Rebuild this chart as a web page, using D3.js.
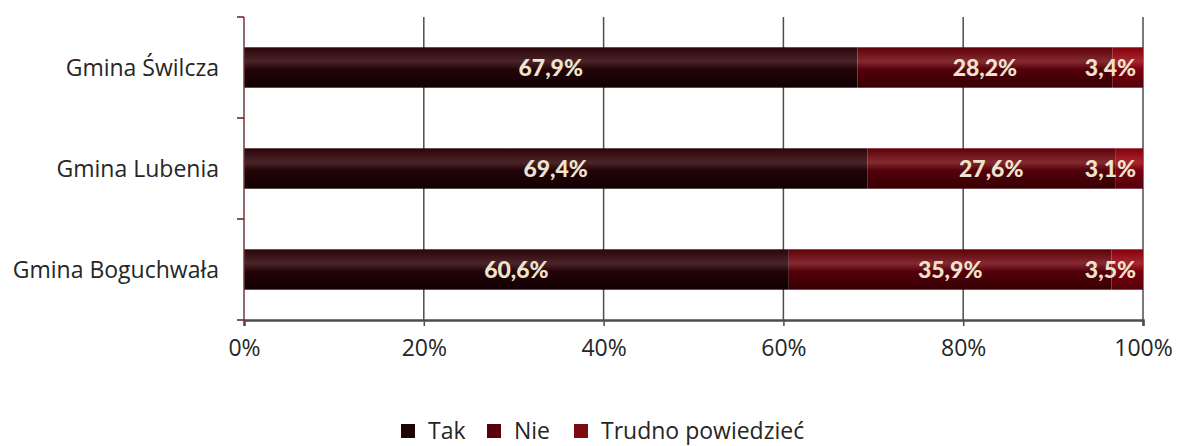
<!DOCTYPE html>
<html lang="pl">
<head>
<meta charset="UTF-8">
<script src="https://d3js.org/d3.v7.min.js"></script>
<title>Gminy</title>
<style>
  body { margin: 0; background: #fff; }
</style>
</head>
<body>
<div id="chart"></div>
<script>
// categories top to bottom
var categories = ["Gmina Świlcza", "Gmina Lubenia", "Gmina Boguchwała"];
var seriesNames = ["Tak", "Nie", "Trudno powiedzieć"];
var tak = [67.9, 69.4, 60.6];
var nie = [28.2, 27.6, 35.9];
var trudno = [3.4, 3.1, 3.5];
var tickValues = [0, 20, 40, 60, 80, 100];

var W = 1178, H = 446;
var margin = {top: 17, left: 244, right: 35, bottom: 126};
var width = W - margin.left - margin.right,
    height = H - margin.top - margin.bottom;

var svg = d3.select("#chart").append("svg")
    .attr("width", W).attr("height", H);

var defs = svg.append("defs");
// band gradients, roughly like the office 3D bar style
var grads = [
  {id: "gTak", c: ["#2a0509", "#4b2429", "#220407", "#120003"]},
  {id: "gNie", c: ["#5e0008", "#842a31", "#54000a", "#360004"]},
  {id: "gTru", c: ["#85000e", "#a8262d", "#780010", "#54000a"]}
];
grads.forEach(function(g) {
  var lg = defs.append("linearGradient").attr("id", g.id)
      .attr("x1", 0).attr("y1", 0).attr("x2", 0).attr("y2", 1);
  lg.append("stop").attr("offset", "0%").attr("stop-color", g.c[0]);
  lg.append("stop").attr("offset", "35%").attr("stop-color", g.c[1]);
  lg.append("stop").attr("offset", "55%").attr("stop-color", g.c[2]);
  lg.append("stop").attr("offset", "100%").attr("stop-color", g.c[3]);
});
var legendColors = ["#1e0407", "#5a000c", "#7c0a10"];

var g = svg.append("g").attr("transform", "translate(" + margin.left + "," + margin.top + ")");

var x = d3.scaleLinear().domain([0, 100]).range([0, width]);
var y = d3.scaleBand().domain(categories).range([0, height]).paddingInner(0.6).paddingOuter(0.3);

// gridlines
g.selectAll(".grid").data(tickValues.slice(1)).enter().append("line")
    .attr("x1", function(d) { return x(d); }).attr("x2", function(d) { return x(d); })
    .attr("y1", 0).attr("y2", height)
    .attr("stroke", "#4d4d4d").attr("stroke-width", 1.5);

// stacked data (100% stacked: shares normalised to the row total)
var rows = categories.map(function(c, i) {
  return {cat: c, vals: [tak[i], nie[i], trudno[i]]};
});
var stack = [];
rows.forEach(function(r) {
  var total = d3.sum(r.vals), acc = 0;
  r.vals.forEach(function(v, k) {
    var s = v / total * 100;
    stack.push({cat: r.cat, k: k, x0: acc, x1: acc + s, v: v});
    acc += s;
  });
});

g.selectAll(".bar").data(stack).enter().append("rect")
    .attr("x", function(d) { return x(d.x0); })
    .attr("width", function(d) { return x(d.x1) - x(d.x0); })
    .attr("y", function(d) { return y(d.cat); })
    .attr("height", y.bandwidth())
    .attr("fill", function(d) { return "url(#" + grads[d.k].id + ")"; });

// value labels
g.selectAll(".lbl").data(stack).enter().append("text")
    .attr("x", function(d) {
      if (d.k === 2) return x(100) - 7;
      return (x(d.x0) + x(d.x1)) / 2;
    })
    .attr("y", function(d) { return y(d.cat) + y.bandwidth() / 2 + 8; })
    .attr("text-anchor", function(d) { return d.k === 2 ? "end" : "middle"; })
    .attr("font-family", "Lato, 'Open Sans', sans-serif")
    .attr("font-weight", "900")
    .attr("font-size", 23)
    .attr("fill", "#eee3cc")
    .text(function(d) { return d.v.toFixed(1).replace(".", ",") + "%"; });

// y axis
g.append("line").attr("x1", 0).attr("x2", 0).attr("y1", 0).attr("y2", height)
    .attr("stroke", "#6e3a3e").attr("stroke-width", 1.5);
var bandEdges = [0, height / 3, 2 * height / 3, height];
g.selectAll(".ytick").data(bandEdges).enter().append("line")
    .attr("x1", -7).attr("x2", 0)
    .attr("y1", function(d) { return d; }).attr("y2", function(d) { return d; })
    .attr("stroke", "#6e1a20").attr("stroke-width", 1.5);

g.selectAll(".ylab").data(categories).enter().append("text")
    .attr("x", -25)
    .attr("y", function(d) { return y(d) + y.bandwidth() / 2 + 8; })
    .attr("text-anchor", "end")
    .attr("font-family", "'Open Sans', sans-serif")
    .attr("font-size", 23)
    .attr("fill", "#262626")
    .text(function(d) { return d; });

// x axis
var xAxis = g.append("g").attr("transform", "translate(0," + height + ")")
    .call(d3.axisBottom(x).tickValues(tickValues).tickSize(6).tickPadding(14)
      .tickFormat(function(d) { return d + "%"; }));
xAxis.select(".domain").attr("stroke", "#4d4d4d").attr("stroke-width", 2.5);
xAxis.selectAll(".tick line").attr("stroke", "#4d4d4d").attr("stroke-width", 1.5);
xAxis.selectAll(".tick text")
    .attr("font-family", "'Open Sans', sans-serif")
    .attr("font-size", 23).attr("fill", "#262626");

// legend
var legend = svg.append("g").attr("transform", "translate(0,439)");
var lx = [401, 487, 574];
seriesNames.forEach(function(n, i) {
  var it = legend.append("g").attr("transform", "translate(" + lx[i] + ",0)");
  it.append("rect").attr("x", 0).attr("y", -15).attr("width", 14).attr("height", 14)
      .attr("fill", legendColors[i]);
  it.append("text").attr("x", 27).attr("y", 0)
      .attr("font-family", "'Open Sans', sans-serif")
      .attr("font-size", 23).attr("fill", "#262626")
      .text(n);
});
</script>
</body>
</html>
